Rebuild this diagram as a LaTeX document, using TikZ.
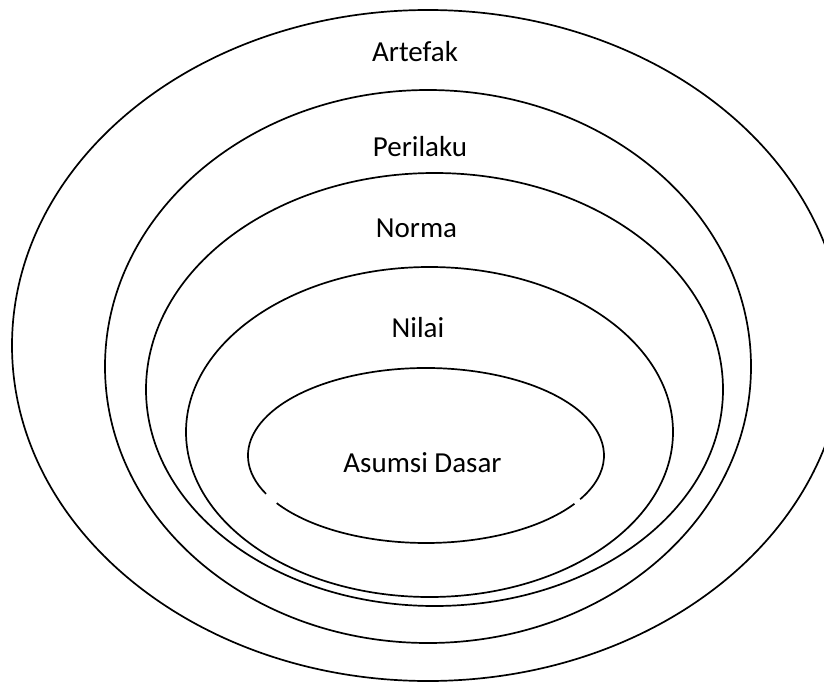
\documentclass[tikz,border=0pt]{standalone}
\usepackage{fontspec}
\setmainfont{Carlito}
\begin{document}
\begin{tikzpicture}[x=1pt,y=-1pt,
  ring/.style={draw=black,line width=1.7pt},
  lbl/.style={font=\fontsize{29}{34}\selectfont,inner sep=0pt,text=black}]
\useasboundingbox (0,0) rectangle (824,682);
\fill[white] (0,0) rectangle (824,682);
\clip (0,0) rectangle (824,682);
\coordinate (c1) at (428,345.5);
\coordinate (c2) at (428,366.5);
\coordinate (c3) at (434.5,389.5);
\coordinate (c4) at (429.5,432);
\coordinate (c5) at (426,455.5);
\draw[ring] (c1) ellipse [x radius=416, y radius=335.5];
\draw[ring] (c2) ellipse [x radius=323, y radius=276.5];
\draw[ring] (c3) ellipse [x radius=288.5, y radius=216.5];
\draw[ring] (c4) ellipse [x radius=243.5, y radius=165];
\draw[ring] (c5) ++(154:178 and 87.5) arc[start angle=154, end angle=390, x radius=178, y radius=87.5];
\draw[ring] (c5) ++(33.5:178 and 87.5) arc[start angle=33.5, end angle=147, x radius=178, y radius=87.5];
\node[lbl] (artefak) at (415,51.5) {Artefak};
\node[lbl] (perilaku) at (420,146.5) {Perilaku};
\node[lbl] (norma) at (416.5,228) {Norma};
\node[lbl] (nilai) at (418,328) {Nilai};
\node[lbl] (asumsi) at (422.5,463) {Asumsi Dasar};
\end{tikzpicture}
\end{document}
